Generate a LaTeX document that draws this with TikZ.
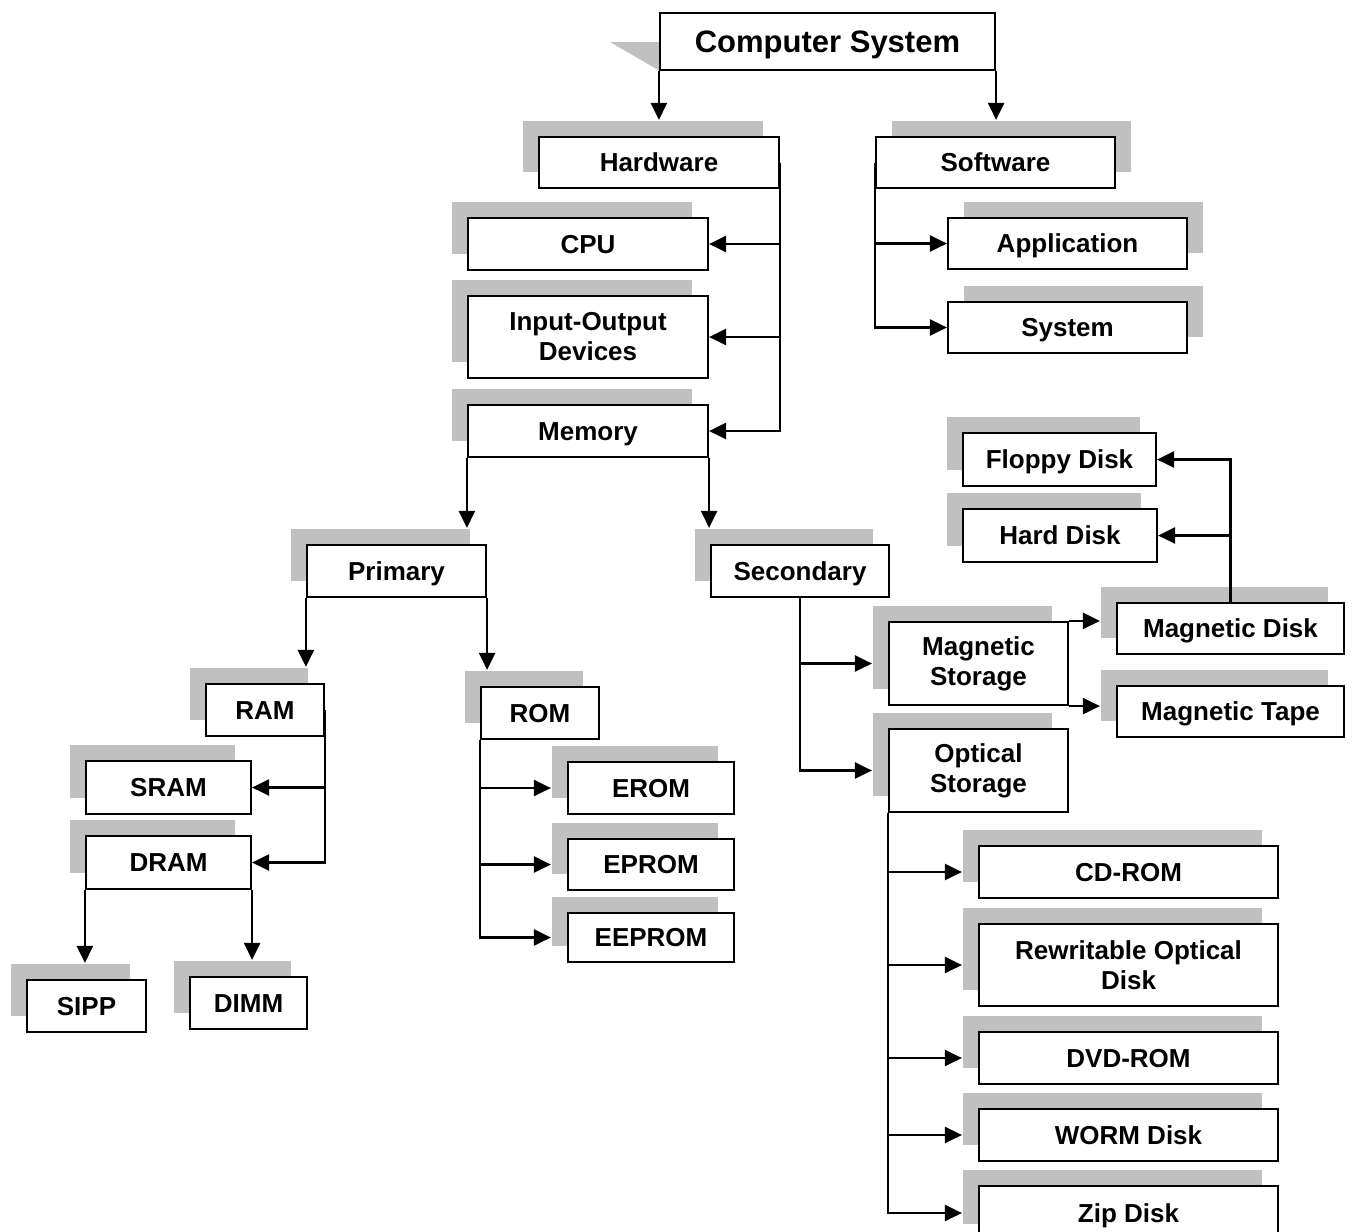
\documentclass[tikz,border=0pt]{standalone}
\usepackage{fontspec}
\setmainfont{Liberation Sans}
\usetikzlibrary{arrows.meta,shadows}
\definecolor{shgray}{RGB}{192,192,192}
\begin{document}
\begin{tikzpicture}[x=1pt,y=-1pt,
  mbox/.style={draw, fill=white, line width=2.2pt, inner sep=0pt, align=center,
    font=\bfseries\fontsize{26}{30}\selectfont},
  box/.style={mbox, text height=18.6pt, text depth=0pt},
  sl/.style={drop shadow={shadow xshift=-16pt,shadow yshift=16pt,opacity=1,fill=shgray}},
  sr/.style={drop shadow={shadow xshift=16pt,shadow yshift=16pt,opacity=1,fill=shgray}},
  wh/.style 2 args={minimum width=#1pt, minimum height=#2pt},
  arr/.style={line width=2.4pt, -{Triangle[length=17pt,width=16pt]}}]
\path[use as bounding box, fill=white] (0,0) rectangle (1353,1232);

% top
\fill[shgray] (610,42) -- (660,42) -- (660,71) -- cycle;
\node[box, wh={335}{57}, text height=22.2pt, font=\bfseries\fontsize{31}{36}\selectfont] (cs) at (827.5,41.5) {Computer System};

% level 1
\node[box, sl, wh={240}{51}] (hw) at (659,162.5) {Hardware};
\node[box, sr, wh={239}{51}] (sw) at (995.5,162.5) {Software};

% hardware children
\node[box, sl, wh={240}{52}] (cpu) at (588,244) {CPU};
\node[mbox, sl, wh={240}{82}] (io) at (588,337) {Input-Output\\Devices};
\node[box, sl, wh={240}{52}] (mem) at (588,431) {Memory};

% software children
\node[box, sr, wh={239}{51}] (app) at (1067.5,243.5) {Application};
\node[box, sr, wh={239}{51}] (sys) at (1067.5,327.5) {System};

% memory
\node[box, sl, wh={179}{52}] (pri) at (396.5,571) {Primary};
\node[box, sl, wh={178}{52}] (sec) at (800,571) {Secondary};

% primary
\node[box, sl, wh={118}{52}] (ram) at (265,710) {RAM};
\node[box, sl, wh={118}{52}] (rom) at (540,713) {ROM};
\node[box, sl, wh={165}{53}] (sram) at (168.5,787.5) {SRAM};
\node[box, sl, wh={165}{53}] (dram) at (168.5,862.5) {DRAM};
\node[box, sl, wh={119}{52}] (sipp) at (86.5,1006) {SIPP};
\node[box, sl, wh={117}{52}] (dimm) at (248.5,1003) {DIMM};
\node[box, sl, wh={166}{52}] (erom) at (651,788) {EROM};
\node[box, sl, wh={166}{51}] (eprom) at (651,864.5) {EPROM};
\node[box, sl, wh={166}{49}] (eeprom) at (651,937.5) {EEPROM};

% secondary
\node[mbox, sl, wh={179}{83}] (magst) at (978.5,663.5) {Magnetic\\Storage};
\node[mbox, sl, wh={179}{83}] (optst) at (978.5,770.5) {Optical\\Storage};
\node[box, sl, wh={227}{51}] (mdisk) at (1230.5,628.5) {Magnetic Disk};
\node[box, sl, wh={227}{51}] (mtape) at (1230.5,711.5) {Magnetic Tape};
\node[box, sl, wh={193}{53}] (floppy) at (1059.5,459.5) {Floppy Disk};
\node[box, sl, wh={194}{53}] (hard) at (1060,535.5) {Hard Disk};
\node[box, sl, wh={299}{52}] (cd) at (1128.5,872) {CD-ROM};
\node[mbox, sl, wh={299}{82}] (rw) at (1128.5,965) {Rewritable Optical\\Disk};
\node[box, sl, wh={299}{52}] (dvd) at (1128.5,1058) {DVD-ROM};
\node[box, sl, wh={299}{52}] (worm) at (1128.5,1135) {WORM Disk};
\node[box, sl, wh={299}{54}] (zip) at (1128.5,1213) {Zip Disk};

% connectors
\draw[arr, shorten >=16pt] (cs.south west) -- (cs.south west |- hw.north);
\draw[arr, shorten >=16pt] (cs.south east) -- (cs.south east |- sw.north);

\draw[arr] (hw.east) |- (cpu.east);
\draw[arr] (hw.east) |- (io.east);
\draw[arr] (hw.east) |- (mem.east);

\draw[arr] (sw.west) |- (app.west);
\draw[arr] (sw.west) |- (sys.west);

\draw[arr, shorten >=16pt] (mem.south west) -- (mem.south west |- pri.north);
\draw[arr, shorten >=16pt] (mem.south east) -- (mem.south east |- sec.north);

\draw[arr, shorten >=16pt] (pri.south west) -- (pri.south west |- ram.north);
\draw[arr, shorten >=16pt] (pri.south east) -- (pri.south east |- rom.north);

\draw[arr] (ram.east) |- (sram.east);
\draw[arr] (ram.east) |- (dram.east);
\draw[arr, shorten >=16pt] (dram.south west) -- (dram.south west |- sipp.north);
\draw[arr, shorten >=16pt] (dram.south east) -- (dram.south east |- dimm.north);

\draw[arr, shorten >=16pt] (rom.south west) |- (erom.west);
\draw[arr, shorten >=16pt] (rom.south west) |- (eprom.west);
\draw[arr, shorten >=16pt] (rom.south west) |- (eeprom.west);

\draw[arr, shorten >=16pt] (sec.south) |- (magst.west);
\draw[arr, shorten >=16pt] (sec.south) |- (optst.west);

\draw[arr, shorten >=16pt] (magst.north east) -- (magst.north east -| mdisk.west);
\draw[arr, shorten >=16pt] (magst.south east) -- (magst.south east -| mdisk.west);

\draw[arr] (mdisk.north) |- (floppy.east);
\draw[arr] (mdisk.north) |- (hard.east);

\draw[arr, shorten >=16pt] (optst.south west) |- (cd.west);
\draw[arr, shorten >=16pt] (optst.south west) |- (rw.west);
\draw[arr, shorten >=16pt] (optst.south west) |- (dvd.west);
\draw[arr, shorten >=16pt] (optst.south west) |- (worm.west);
\draw[arr, shorten >=16pt] (optst.south west) |- (zip.west);
\end{tikzpicture}
\end{document}
